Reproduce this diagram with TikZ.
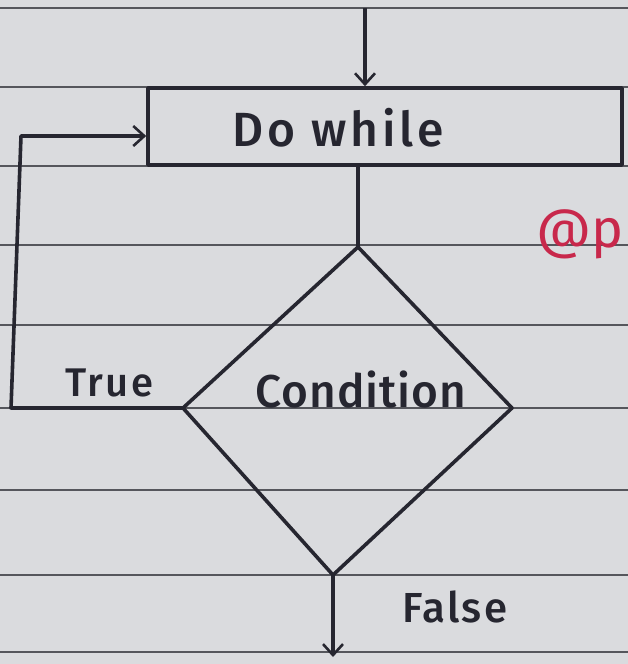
\documentclass[tikz,border=0pt]{standalone}
\usepackage{fontspec}
\setmainfont{Fira Sans}
\newfontfamily\handfont{Fira Sans Medium}
\usetikzlibrary{arrows.meta}
\definecolor{paper}{RGB}{218,219,222}
\definecolor{rule}{RGB}{85,86,92}
\definecolor{pen}{RGB}{38,38,48}
\definecolor{redpen}{RGB}{200,40,75}
\tikzset{
  penline/.style={draw=pen, line width=3.6pt, line join=round},
  arr/.style={penline, -{Straight Barb[length=11pt,width=20pt,line width=2.6pt]}},
  hand/.style={text=pen, inner sep=0pt},
  ruleline/.style={draw=rule, line width=1.1pt}
}
\begin{document}
\begin{tikzpicture}[x=1pt,y=-1pt]
\useasboundingbox (0,0) rectangle (628,664);
\fill[paper] (0,0) rectangle (628,664);
% ruled paper
\foreach \yy in {8,87,166,245,325,408,490,575,652}
  \draw[ruleline] (0,\yy) -- (628,\yy);
% red mark
\node[text=redpen, font=\fontsize{54}{58}\selectfont, anchor=west, inner sep=0pt] (mark) at (536,234) {@p};
% box
\node[penline, minimum width=474, minimum height=77, inner sep=0pt] (box) at (385,126.5) {};
\node[hand, font=\handfont\fontsize{48}{52}\selectfont\addfontfeature{LetterSpace=8}] (boxtext) at (338,128) {Do while};
% diamond
\coordinate (dtop) at (358,247);
\coordinate (dleft) at (183,408);
\coordinate (dright) at (512,408);
\coordinate (dbot) at (333,575);
\draw[penline] (dtop) -- (dright) -- (dbot) -- (dleft) -- cycle;
\node[hand, font=\handfont\fontsize{46}{50}\selectfont\addfontfeature{LetterSpace=2}] (cond) at (361,390) {Condition};
% connectors
\coordinate (start) at (365,8);
\draw[arr] (start) -- (start |- box.north);
\draw[penline] (dtop |- box.south) -- (dtop);
\coordinate (lb) at (11,408);
\coordinate (lt) at (21,136);
\draw[arr] (dleft) -- (lb) -- (lt) -- (lt -| box.west);
\coordinate (end) at (333,657);
\draw[arr] (dbot) -- (end);
% labels
\node[hand, font=\handfont\fontsize{40}{44}\selectfont\addfontfeature{LetterSpace=6}] (truelbl) at (109,383) {True};
\node[hand, font=\handfont\fontsize{42}{46}\selectfont\addfontfeature{LetterSpace=5}] (falselbl) at (455,607) {False};
\end{tikzpicture}
\end{document}
